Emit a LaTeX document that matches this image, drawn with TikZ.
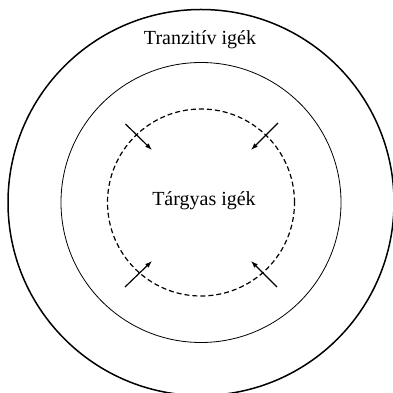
\documentclass[tikz,border=0pt]{standalone}
\usepackage{fontspec}
\setmainfont{Liberation Serif}
\usetikzlibrary{arrows.meta}
\begin{document}
\begin{tikzpicture}[x=1pt,y=1pt,
  ring/.style={circle,draw,inner sep=0pt},
  lbl/.style={font=\fontsize{20}{24}\selectfont,inner sep=0pt},
  inarrow/.style={line width=1.2pt,-{Latex[length=7pt,width=5pt]}}]
\useasboundingbox (0,0) rectangle (392,393);
\coordinate (c) at (201,190.5);
\node[ring,line width=1.5pt,minimum size=386pt] (outer) at (c) {};
\node[ring,line width=0.8pt,minimum size=280pt] (middle) at (c) {};
\node[ring,line width=1.2pt,dash pattern=on 5pt off 3pt,minimum size=187pt] (inner) at (c) {};
\node[lbl] (tranz) at (200,353) {Tranzitív igék};
\node[lbl] (targy) at (204,192) {Tárgyas igék};
\coordinate (tl0) at (125.5,269);
\coordinate (tl1) at (152,243);
\coordinate (tr0) at (278,270);
\coordinate (tr1) at (251,243);
\coordinate (bl0) at (125,106);
\coordinate (bl1) at (152,132);
\coordinate (br0) at (277,106);
\coordinate (br1) at (251,132);
\draw[inarrow] (tl0) -- (tl1);
\draw[inarrow] (tr0) -- (tr1);
\draw[inarrow] (bl0) -- (bl1);
\draw[inarrow] (br0) -- (br1);
\end{tikzpicture}
\end{document}
